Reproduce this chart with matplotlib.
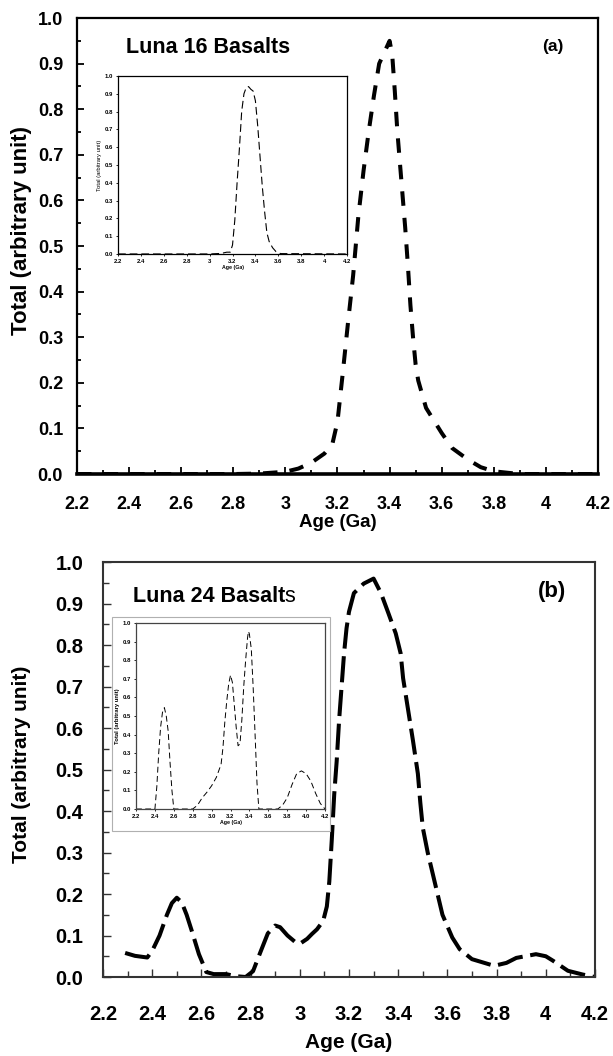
import matplotlib.pyplot as plt
import numpy as np
from matplotlib.ticker import MultipleLocator, FormatStrFormatter
from matplotlib.patches import Rectangle
from matplotlib import font_manager

# Luna 16 (panel a) - main curve
age_a = [2.2, 2.4, 2.6, 2.8, 2.9, 3.0, 3.05, 3.1, 3.15, 3.18, 3.20, 3.22, 3.24, 3.26, 3.28, 3.30,
         3.32, 3.34, 3.36, 3.38, 3.40, 3.41, 3.42, 3.43, 3.44, 3.45, 3.46, 3.47, 3.48, 3.49, 3.50,
         3.51, 3.54, 3.60, 3.64, 3.70, 3.75, 3.80, 3.9, 4.0, 4.2]
tot_a = [0, 0, 0, 0, 0.001, 0.005, 0.012, 0.025, 0.045, 0.065, 0.115, 0.22, 0.33, 0.435, 0.565, 0.665,
         0.752, 0.83, 0.90, 0.925, 0.95, 0.92, 0.84, 0.75, 0.68, 0.61, 0.54, 0.46, 0.37, 0.30, 0.24,
         0.205, 0.145, 0.09, 0.057, 0.032, 0.015, 0.006, 0, 0, 0]

# Luna 16 inset
age_ai = [2.2, 3.0, 3.1, 3.15, 3.18, 3.20, 3.22, 3.24, 3.26, 3.28, 3.30, 3.32, 3.34, 3.36, 3.38,
          3.40, 3.42, 3.44, 3.46, 3.48, 3.50, 3.52, 3.55, 3.58, 3.62, 4.2]
tot_ai = [0, 0, 0.003, 0.01, 0.01, 0.05, 0.19, 0.40, 0.59, 0.80, 0.90, 0.935, 0.94, 0.925, 0.915,
          0.86, 0.72, 0.55, 0.38, 0.24, 0.12, 0.07, 0.035, 0.013, 0.002, 0]

# Luna 24 (panel b) - main curve
age_b = [2.29, 2.33, 2.38, 2.40, 2.43, 2.46, 2.48, 2.50, 2.52, 2.54, 2.56, 2.59, 2.62, 2.65, 2.70,
         2.74, 2.78, 2.81, 2.84, 2.87, 2.90, 2.92, 2.95, 2.98, 3.00, 3.03, 3.05, 3.07, 3.095, 3.11,
         3.12, 3.13, 3.14, 3.15, 3.16, 3.17, 3.18, 3.19, 3.20, 3.22, 3.26, 3.30, 3.33, 3.36, 3.39,
         3.41, 3.42, 3.44, 3.46, 3.48, 3.49, 3.50, 3.52, 3.54, 3.56, 3.58, 3.62, 3.65, 3.70, 3.79,
         3.84, 3.88, 3.96, 4.00, 4.03, 4.09, 4.15, 4.20]
tot_b = [0.058, 0.051, 0.047, 0.063, 0.10, 0.150, 0.178, 0.191, 0.180, 0.150, 0.113, 0.055, 0.012, 0.007, 0.007,
         0.002, 0.0, 0.014, 0.060, 0.105, 0.124, 0.120, 0.100, 0.085, 0.080, 0.092, 0.104, 0.115, 0.135, 0.17,
         0.23, 0.33, 0.44, 0.52, 0.62, 0.70, 0.78, 0.84, 0.88, 0.925, 0.948, 0.960, 0.925, 0.877, 0.828,
         0.78, 0.72, 0.645, 0.57, 0.49, 0.42, 0.36, 0.30, 0.25, 0.20, 0.15, 0.095, 0.067, 0.043, 0.027,
         0.034, 0.046, 0.055, 0.050, 0.039, 0.015, 0.006, 0.0]

# Luna 24 inset
age_bi = [2.2, 2.40, 2.42, 2.44, 2.46, 2.48, 2.50, 2.52, 2.54, 2.56, 2.58, 2.60, 2.80, 2.85, 2.90,
          2.95, 3.00, 3.05, 3.10, 3.12, 3.14, 3.16, 3.18, 3.20, 3.22, 3.24, 3.26, 3.28, 3.30, 3.32,
          3.34, 3.36, 3.38, 3.39, 3.40, 3.42, 3.44, 3.46, 3.48, 3.50, 3.70, 3.75, 3.80, 3.85, 3.90,
          3.95, 4.00, 4.05, 4.10, 4.15, 4.20]
tot_bi = [0, 0, 0.12, 0.30, 0.44, 0.52, 0.545, 0.50, 0.42, 0.25, 0.10, 0, 0, 0.02, 0.06,
          0.09, 0.125, 0.17, 0.24, 0.33, 0.47, 0.58, 0.67, 0.72, 0.68, 0.56, 0.44, 0.34, 0.35, 0.48,
          0.66, 0.80, 0.92, 0.955, 0.94, 0.86, 0.65, 0.40, 0.14, 0, 0, 0.02, 0.06, 0.13, 0.19,
          0.205, 0.19, 0.15, 0.085, 0.03, 0]

names = {f.name for f in font_manager.fontManager.ttflist}
narrow = 'Liberation Sans Narrow' if 'Liberation Sans Narrow' in names else 'Liberation Sans'
plt.rcParams['font.family'] = ['Liberation Sans', 'DejaVu Sans']
plt.rcParams['font.weight'] = 'bold'
plt.rcParams['axes.labelweight'] = 'bold'

fig = plt.figure(figsize=(6.13, 10.56), dpi=100)


def small_inset(ax, fmt, ylab_weight):
    ax.set_xlim(2.2, 4.2)
    ax.set_ylim(0, 1.0)
    ax.xaxis.set_major_locator(MultipleLocator(0.2))
    ax.yaxis.set_major_locator(MultipleLocator(0.1))
    ax.xaxis.set_major_formatter(FormatStrFormatter(fmt))
    ax.yaxis.set_major_formatter(FormatStrFormatter('%.1f'))
    ax.tick_params(direction='out', length=1.5, width=0.6, labelsize=4.3, pad=2)
    for s in ax.spines.values():
        s.set_linewidth(0.9)
    ax.set_xlabel('Age (Ga)', fontsize=3.8, labelpad=1)
    ax.set_ylabel('Total (arbitrary unit)', fontsize=4.2, labelpad=2, fontweight=ylab_weight)


# ---- panel (a) ----
ax1 = fig.add_axes([0.1256, 0.5511, 0.8499, 0.4318])
ax1.plot(age_a, tot_a, color='black', lw=2.9, ls=(0, (3.6, 3.0)), dash_capstyle='butt')
ax1.set_xlim(2.2, 4.2)
ax1.set_ylim(0, 1.0)
ax1.xaxis.set_major_locator(MultipleLocator(0.2))
ax1.xaxis.set_minor_locator(MultipleLocator(0.1))
ax1.yaxis.set_major_locator(MultipleLocator(0.1))
ax1.yaxis.set_minor_locator(MultipleLocator(0.05))
ax1.xaxis.set_major_formatter(FormatStrFormatter('%g'))
ax1.yaxis.set_major_formatter(FormatStrFormatter('%.1f'))
ax1.tick_params(which='major', direction='in', length=5, width=1.3, labelsize=13, pad=10)
ax1.tick_params(which='minor', direction='in', length=3, width=1.3)
ax1.tick_params(axis='x', which='major', pad=16)
for lab in ax1.get_xticklabels() + ax1.get_yticklabels():
    lab.set_family([narrow, 'Liberation Sans'])
    lab.set_fontweight('bold')
for s in ax1.spines.values():
    s.set_linewidth(1.6)
ax1.spines['bottom'].set_linewidth(2.6)
ax1.set_xlabel('Age (Ga)', fontsize=13.5, va='center')
ax1.xaxis.set_label_coords(0.5, -0.107)
ax1.set_ylabel('Total (arbitrary unit)', fontsize=16, va='center')
ax1.yaxis.set_label_coords(-0.106, 0.535)
ax1.text(0.094, 0.935, 'Luna 16 Basalts', transform=ax1.transAxes, fontsize=15.5,
         ha='left', va='center')
ax1.text(0.914, 0.938, '(a)', transform=ax1.transAxes, fontsize=12.5, ha='center', va='center')

ia = fig.add_axes([0.1925, 0.7595, 0.3736, 0.1686])
ia.plot(age_ai, tot_ai, color='black', lw=0.8, ls=(0, (7, 3.5)))
small_inset(ia, '%g', 'normal')

# ---- panel (b) ----
ax2 = fig.add_axes([0.168, 0.0748, 0.8026, 0.393])
ax2.plot(age_b, tot_b, color='black', lw=2.9, ls=(0, (6.5, 1.9)), dash_capstyle='butt')
ax2.set_xlim(2.2, 4.2)
ax2.set_ylim(0, 1.0)
ax2.xaxis.set_major_locator(MultipleLocator(0.2))
ax2.xaxis.set_minor_locator(MultipleLocator(0.1))
ax2.yaxis.set_major_locator(MultipleLocator(0.1))
ax2.yaxis.set_minor_locator(MultipleLocator(0.05))
ax2.xaxis.set_major_formatter(FormatStrFormatter('%g'))
ax2.yaxis.set_major_formatter(FormatStrFormatter('%.1f'))
ax2.tick_params(which='major', direction='in', length=6, width=1.0, labelsize=14.5, pad=14,
                color='#333333')
ax2.tick_params(which='minor', direction='in', length=4, width=1.0, color='#333333')
ax2.tick_params(axis='x', which='major', pad=20)
for lab in ax2.get_xticklabels() + ax2.get_yticklabels():
    lab.set_fontweight('bold')
for s in ax2.spines.values():
    s.set_linewidth(1.5)
    s.set_color('#333333')
ax2.set_xlabel('Age (Ga)', fontsize=15, va='center')
ax2.xaxis.set_label_coords(0.5, -0.159)
ax2.set_ylabel('Total (arbitrary unit)', fontsize=15, va='center')
ax2.yaxis.set_label_coords(-0.165, 0.513)
t = ax2.text(0.06, 0.917, 'Luna 24 Basalt', transform=ax2.transAxes, fontsize=15.5,
             ha='left', va='center')
ax2.annotate('s', xy=(1, 0.5), xycoords=t, fontsize=15.5, fontweight='normal',
             ha='left', va='center')
ax2.text(0.913, 0.93, '(b)', transform=ax2.transAxes, fontsize=16, ha='center', va='center')

fig.add_artist(Rectangle((0.1827, 0.2131), 0.3556, 0.2026, transform=fig.transFigure,
                         facecolor='none', edgecolor='#b0b0b0', lw=0.8, zorder=2))
ib = fig.add_axes([0.2219, 0.2339, 0.3083, 0.1761], zorder=3)
ib.plot(age_bi, tot_bi, color='black', lw=0.7, ls=(0, (6, 3.5)))
small_inset(ib, '%.1f', 'bold')
for s in ib.spines.values():
    s.set_color('#444444')

fig.savefig('out.png', dpi=100)
